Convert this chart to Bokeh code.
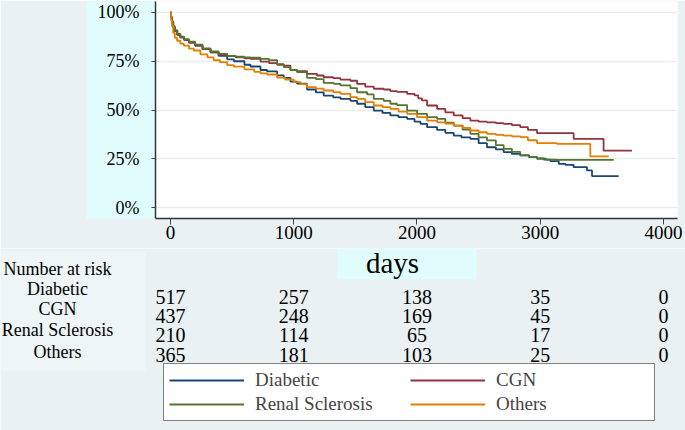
from bokeh.plotting import figure
from bokeh.layouts import column
from bokeh.models import Range1d, FixedTicker, Legend, LegendItem
from bokeh.core.properties import value
from bokeh.embed import file_html
from bokeh.resources import INLINE

# ---------------- data ----------------
diabetic_t = [0, 5, 12, 22, 35, 55, 80, 110, 150, 200,
              260, 325, 390, 460, 514, 600, 649, 730, 784, 865,
              919, 973, 1027, 1108, 1180, 1243, 1320, 1379, 1460, 1514,
              1580, 1649, 1720, 1784, 1850, 1920, 1980, 2028, 2082, 2163,
              2230, 2298, 2360, 2433, 2500, 2568, 2640, 2703, 2770, 2838,
              2910, 2974, 3028, 3082, 3150, 3204, 3271, 3379, 3420, 3636]
diabetic_s = [100, 97.5, 95, 92.5, 90.5, 88.5, 87.2, 86, 84.5, 83,
              81.2, 79.6, 77.8, 76, 75, 73.2, 72.3, 70.5, 69.8, 67.8,
              66.5, 64.5, 63.5, 60.5, 59, 57.4, 56.5, 55.7, 54.7, 53.2,
              51.5, 49.7, 48.5, 47.2, 46.3, 45.5, 44, 42.9, 41.2, 39.8,
              38.3, 36.9, 36, 35.2, 33, 30.9, 29.8, 28.4, 27.5, 26.7,
              25.8, 25.2, 24.6, 23.8, 22.4, 21.9, 20.7, 19, 16.1, 16.1]

cgn_t = [0, 5, 12, 22, 35, 55, 80, 110, 150, 200,
         260, 325, 390, 460, 530, 600, 649, 730, 800, 865,
         919, 973, 1027, 1108, 1189, 1243, 1320, 1379, 1460, 1514,
         1580, 1649, 1730, 1784, 1838, 1920, 1980, 2010, 2040, 2082,
         2163, 2230, 2298, 2370, 2433, 2500, 2568, 2640, 2703, 2770,
         2838, 2900, 2974, 3271, 3514, 3744]
cgn_s = [100, 97.5, 95, 92.5, 90.5, 88.5, 87.2, 86, 84.5, 83,
         81.2, 79.6, 78.3, 77.6, 77, 76.5, 76.2, 74.8, 74, 73.2,
         72.8, 70.5, 69.9, 68.5, 67.7, 66.8, 66.3, 65.6, 65, 63.4,
         62, 60.9, 60.5, 59.7, 59.3, 58.3, 57.5, 56, 54.9, 52.3,
         50.6, 48.8, 47.2, 45.8, 44.6, 44, 43.7, 43.3, 42.9, 42.2,
         41.2, 39.8, 38.1, 35.2, 29.2, 29.2]

renal_t = [0, 5, 12, 22, 35, 55, 80, 110, 150, 200,
           260, 325, 390, 460, 530, 600, 649, 730, 800, 865,
           919, 973, 1027, 1108, 1180, 1243, 1324, 1379, 1460, 1514,
           1595, 1649, 1730, 1784, 1838, 1920, 2000, 2082, 2163, 2230,
           2298, 2370, 2433, 2500, 2568, 2640, 2703, 2770, 2838, 2910,
           2974, 3050, 3136, 3596]
renal_s = [100, 97.8, 95.5, 93, 91, 89, 87.6, 86.3, 85, 83.5,
           81.6, 80, 78.8, 77.8, 77.3, 77, 76.8, 76.2, 75.5, 73.5,
           72, 70.5, 69.4, 66.5, 65.8, 63.9, 63.4, 62.6, 61.2, 59.1,
           58, 55.7, 54.7, 53.2, 52.5, 49.7, 48, 46.3, 45.5, 43.5,
           42, 40, 37.8, 36, 34.4, 32, 30.1, 28.5, 26.7, 25.8,
           25, 24.6, 24.4, 24.4]

others_t = [0, 5, 12, 22, 35, 54, 80, 108, 150, 189,
            243, 300, 350, 400, 460, 514, 600, 680, 730, 784,
            865, 930, 1000, 1054, 1108, 1180, 1243, 1320, 1379, 1460,
            1514, 1580, 1649, 1720, 1784, 1850, 1920, 2000, 2082, 2163,
            2230, 2298, 2370, 2433, 2500, 2568, 2640, 2703, 2770, 2838,
            2900, 2974, 3136, 3406, 3555]
others_s = [100, 96, 93, 89.5, 87, 85.5, 84, 83, 81.5, 80.5,
            78.5, 77, 75.5, 74.5, 73, 72.2, 70.8, 69.6, 68.8, 68.2,
            66.6, 65.6, 64.3, 63.3, 61.7, 61, 60, 59.2, 58.3, 56.6,
            55.7, 54, 52.3, 51.5, 50.6, 49.2, 48, 46.3, 44.6, 43.7,
            43, 42, 40.8, 39.5, 38.6, 37.8, 37.2, 36.9, 36.5, 36.1,
            34.5, 33, 32.6, 26.2, 26.2]

group_names = ["Diabetic", "CGN", "Renal Sclerosis", "Others"]
risk_times = [0, 1000, 2000, 3000, 4000]
risk_diabetic = [517, 257, 138, 35, 0]
risk_cgn = [437, 248, 169, 45, 0]
risk_renal = [210, 114, 65, 17, 0]
risk_others = [365, 181, 103, 25, 0]

x_ticks = [0, 1000, 2000, 3000, 4000]
y_ticks = [0, 25, 50, 75, 100]
y_tick_labels = ["0%", "25%", "50%", "75%", "100%"]

# ---------------- style / layout ----------------
BG = "#e9f1f2"
BG_LIGHT = "#eef5f6"
CYAN = "#e1fcfd"
COLORS = ["#1a476f", "#90353b", "#55752f", "#e37e00"]
SERIF = "Liberation Serif"

W = 685
TOP_H = 248
FL, FR, FT, FB = 155, 677, 1, 218          # plot frame in screen px
X0, X1 = -121.7, 4113.6
Y0, Y1 = -5.64, 105.64


def dx(px):
    return X0 + (px - FL) * (X1 - X0) / (FR - FL)


p = figure(width=W, height=TOP_H, x_range=Range1d(X0, X1), y_range=Range1d(Y0, Y1),
           output_backend="svg", toolbar_location=None,
           min_border_left=FL, min_border_right=W - FR,
           min_border_top=FT, min_border_bottom=TOP_H - FB,
           border_fill_color=BG, background_fill_color="white",
           outline_line_color=None)

# axes
p.xaxis.ticker = FixedTicker(ticks=x_ticks)
p.xaxis.major_label_text_font = SERIF
p.xaxis.major_label_text_font_size = "19px"
p.xaxis.major_label_text_color = "black"
p.xaxis.major_tick_out = 6
p.xaxis.major_tick_in = 0
p.xaxis.minor_tick_line_color = None
p.xaxis.axis_line_color = "#333333"
p.xaxis.axis_line_width = 1.5
p.xaxis.major_tick_line_color = "#444444"
p.xaxis.major_label_standoff = 1

p.yaxis.ticker = FixedTicker(ticks=y_ticks)
p.yaxis.major_label_overrides = {t: l for t, l in zip(y_ticks, y_tick_labels)}
p.yaxis.major_label_text_font = SERIF
p.yaxis.major_label_text_font_size = "18px"
p.yaxis.major_label_text_color = "black"
p.yaxis.major_tick_out = 4
p.yaxis.major_tick_in = 0
p.yaxis.minor_tick_line_color = None
p.yaxis.axis_line_color = "#333333"
p.yaxis.axis_line_width = 1.5
p.yaxis.major_tick_line_color = "#444444"
p.yaxis.major_label_standoff = 12
# invisible axis title only to widen the cyan axis band
p.yaxis.axis_label = "."
p.yaxis.axis_label_text_font_size = "8px"
p.yaxis.axis_label_text_alpha = 0
p.yaxis.axis_label_standoff = 0
try:
    p.yaxis.background_fill_color = CYAN
    p.yaxis.background_fill_alpha = 1.0
except Exception:
    pass

p.xgrid.visible = False
p.ygrid.grid_line_color = "#e6eef0"
p.ygrid.grid_line_width = 1.3

# curves
series = [(diabetic_t, diabetic_s), (cgn_t, cgn_s), (renal_t, renal_s), (others_t, others_s)]
for (t, s), c in zip(series, COLORS):
    p.step(t, s, mode="after", line_color=c, line_width=1.8)

# ---------------- lower panel: axis title, number at risk, legend ----------------
BOT_H = 430 - TOP_H
q = figure(width=W, height=BOT_H, x_range=Range1d(dx(0), dx(W)), y_range=Range1d(430, TOP_H),
           output_backend="svg", toolbar_location=None,
           x_axis_location=None, y_axis_location=None,
           min_border=0, min_border_left=0, min_border_right=0,
           min_border_top=0, min_border_bottom=0,
           border_fill_color=BG, background_fill_color=BG, outline_line_color=None)
q.grid.visible = False

for fig in (p, q):
    try:
        fig.frame_align = False
    except Exception:
        pass

# lighter area behind the row labels
q.quad(left=dx(0), right=dx(145), top=252, bottom=370, fill_color=BG_LIGHT, line_color=None)
# cyan box behind "days"
q.quad(left=dx(337), right=dx(476), top=TOP_H, bottom=279, fill_color=CYAN, line_color=None)
q.text(x=[dx(392)], y=[262], text=["days"], text_align="center", text_baseline="middle",
       text_font=value(SERIF), text_font_size=value("29px"), text_color="black")

# row labels
label_rows_py = [268, 288, 308, 329, 351]
q.text(x=[dx(57)] * 5, y=label_rows_py, text=["Number at risk"] + group_names,
       text_align="center", text_baseline="middle",
       text_font=value(SERIF), text_font_size=value("18px"), text_color="black")

# numbers at risk
num_rows_py = [296, 315, 334, 354]
risk_rows = [risk_diabetic, risk_cgn, risk_renal, risk_others]
xs, ys, txt = [], [], []
for row, npy in zip(risk_rows, num_rows_py):
    for t, n in zip(risk_times, row):
        xs.append(t)
        ys.append(npy)
        txt.append(str(n))
q.text(x=xs, y=ys, text=txt, text_align="center", text_baseline="middle",
       text_font=value(SERIF), text_font_size=value("20px"), text_color="black")

# legend (key glyphs only, no data drawn)
nan = float("nan")
keys = [q.line(x=[nan, nan], y=[nan, nan], line_color=c, line_width=1.8) for c in COLORS]
legend = Legend(items=[LegendItem(label=n, renderers=[r]) for n, r in zip(group_names, keys)],
                orientation="horizontal", ncols=2,
                location=(163, 430 - 421),
                glyph_width=75, glyph_height=20, label_standoff=11,
                label_width=153, label_height=18, spacing=2, padding=5, margin=0,
                label_text_font=SERIF, label_text_font_size="19px",
                border_line_color="black", border_line_width=1,
                background_fill_color="white", background_fill_alpha=1.0)
q.add_layout(legend)

layout = column(p, q, spacing=0)
open("out.html", "w").write(file_html(layout, INLINE))
